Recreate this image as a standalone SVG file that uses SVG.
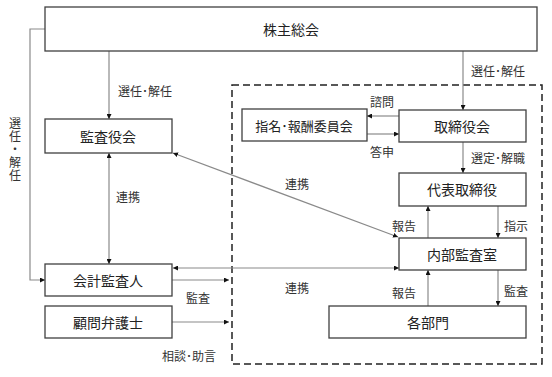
<svg xmlns="http://www.w3.org/2000/svg" width="552" height="377" viewBox="0 0 552 377">
<defs>
<marker id="ah" viewBox="0 0 6 6" refX="6" refY="3" markerWidth="5" markerHeight="5" orient="auto-start-reverse" markerUnits="userSpaceOnUse">
<path d="M0,0 L6,3 L0,6 Z" fill="#111"/>
</marker>
<style>
.box{fill:#fff;stroke:#404040;stroke-width:1.3}
.lbl{font-family:"Noto Sans CJK JP","Noto Sans CJK SC",sans-serif;font-size:14px;fill:#222;text-anchor:middle;dominant-baseline:central}
.sm{font-family:"Noto Sans CJK JP","Noto Sans CJK SC",sans-serif;font-size:12px;fill:#333;text-anchor:middle;dominant-baseline:central}
.vt{font-family:"Noto Sans CJK JP","Noto Sans CJK SC",sans-serif;font-size:12px;fill:#333;writing-mode:vertical-rl;letter-spacing:1px}
.ln{fill:none;stroke:#8a8a8a;stroke-width:1.2}
.dash{fill:none;stroke:#222;stroke-width:1.5;stroke-dasharray:7,4}
</style>
</defs>
<rect width="552" height="377" fill="#fff"/>
<rect class="dash" x="232" y="85" width="310" height="279"/>
<g id="connectors">
<path class="ln" d="M45,29 H30 V280 H45" marker-end="url(#ah)"/>
<path class="ln" d="M109,51 V119" marker-end="url(#ah)"/>
<path class="ln" d="M109,153 V264" marker-start="url(#ah)" marker-end="url(#ah)"/>
<path class="ln" d="M463,51 V110" marker-end="url(#ah)"/>
<path class="ln" d="M399,116 H367" marker-end="url(#ah)"/>
<path class="ln" d="M367,134 H399" marker-end="url(#ah)"/>
<path class="ln" d="M463,142 V173" marker-end="url(#ah)"/>
<path class="ln" d="M173,153 L398,237" marker-start="url(#ah)" marker-end="url(#ah)"/>
<path class="ln" d="M428,238 V206" marker-end="url(#ah)"/>
<path class="ln" d="M498,206 V238" marker-end="url(#ah)"/>
<path class="ln" d="M428,306 V270" marker-end="url(#ah)"/>
<path class="ln" d="M498,270 V306" marker-end="url(#ah)"/>
<path class="ln" d="M173,268 H399" marker-start="url(#ah)" marker-end="url(#ah)"/>
<path class="ln" d="M172,280 H229" marker-end="url(#ah)"/>
<path class="ln" d="M172,322 H229" marker-end="url(#ah)"/>
</g>
<g id="labels">
<text class="sm" x="145" y="90">選任･解任</text>
<text class="sm" x="498" y="70">選任･解任</text>
<text class="vt" x="15" y="117">選任・解任</text>
<text class="sm" x="128" y="196">連携</text>
<text class="sm" x="297" y="183">連携</text>
<text class="sm" x="297" y="287">連携</text>
<text class="sm" x="382" y="101">諮問</text>
<text class="sm" x="382" y="151">答申</text>
<text class="sm" x="498" y="157">選定･解職</text>
<text class="sm" x="404" y="225">報告</text>
<text class="sm" x="516" y="225">指示</text>
<text class="sm" x="404" y="292">報告</text>
<text class="sm" x="516" y="290">監査</text>
<text class="sm" x="198" y="297">監査</text>
<text class="sm" x="189" y="355">相談･助言</text>
</g>
<g id="n_shareholders"><rect class="box" x="45" y="7" width="492" height="44"/><text class="lbl" x="291" y="29">株主総会</text></g>
<g id="n_auditboard"><rect class="box" x="45" y="119" width="127" height="34"/><text class="lbl" x="108" y="136">監査役会</text></g>
<g id="n_accountant"><rect class="box" x="45" y="264" width="127" height="32"/><text class="lbl" x="108" y="280">会計監査人</text></g>
<g id="n_lawyer"><rect class="box" x="45" y="306" width="127" height="32"/><text class="lbl" x="108" y="322">顧問弁護士</text></g>
<g id="n_committee"><rect class="box" x="242" y="109" width="125" height="32"/><text class="lbl" x="304" y="125" style="font-size:13px">指名･報酬委員会</text></g>
<g id="n_board"><rect class="box" x="399" y="110" width="127" height="32"/><text class="lbl" x="462" y="126">取締役会</text></g>
<g id="n_ceo"><rect class="box" x="399" y="173" width="127" height="33"/><text class="lbl" x="462" y="189">代表取締役</text></g>
<g id="n_internal"><rect class="box" x="399" y="238" width="127" height="32"/><text class="lbl" x="462" y="254">内部監査室</text></g>
<g id="n_depts"><rect class="box" x="329" y="306" width="197" height="32"/><text class="lbl" x="428" y="322">各部門</text></g>
</svg>
